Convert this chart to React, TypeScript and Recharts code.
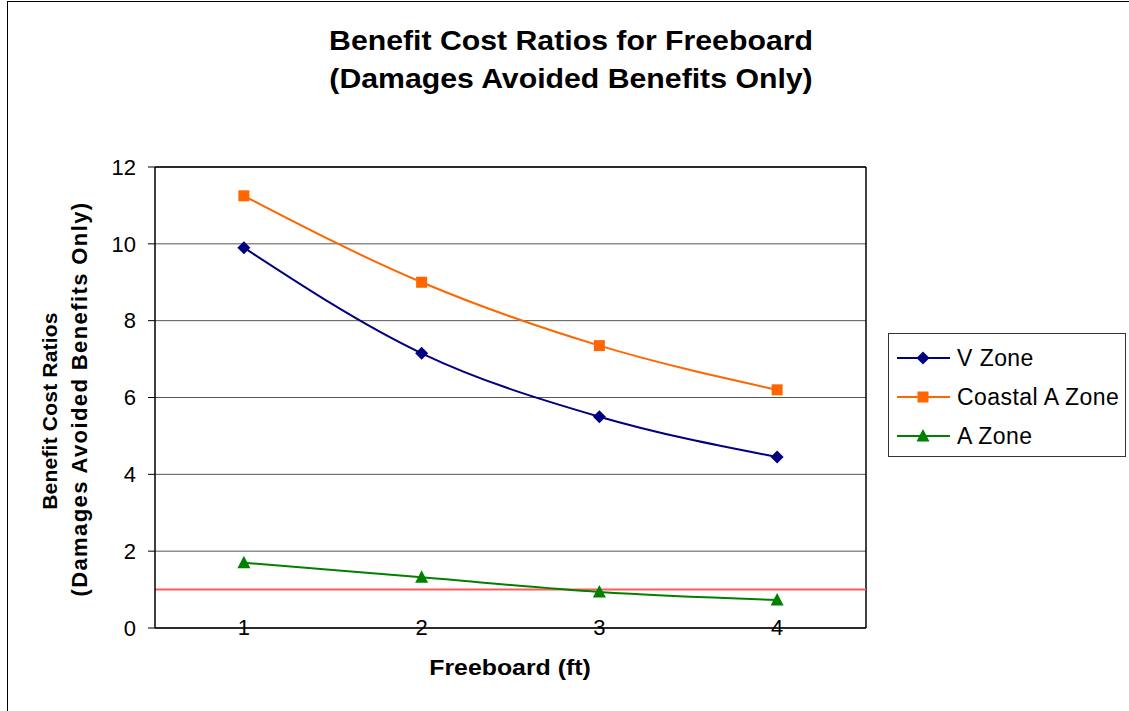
import { LineChart, Line, XAxis, YAxis, CartesianGrid, ReferenceLine } from 'recharts'

const freeboard = [1, 2, 3, 4]
const vZone = [9.9, 7.15, 5.5, 4.45]
const coastalAZone = [11.25, 9.0, 7.35, 6.2]
const aZone = [1.7, 1.32, 0.94, 0.73]
const yTicks = [0, 2, 4, 6, 8, 10, 12]
const breakEven = 1

const series = [
  { key: 'v', name: 'V Zone', color: '#000080', shape: 'diamond' },
  { key: 'coastal', name: 'Coastal A Zone', color: '#FF6600', shape: 'square' },
  { key: 'a', name: 'A Zone', color: '#008000', shape: 'triangle' },
]

const data = freeboard.map((ft, i) => ({
  ft,
  v: vZone[i],
  coastal: coastalAZone[i],
  a: aZone[i],
}))

const font = '"Liberation Sans", Arial, sans-serif'

function Marker({ shape, color, cx, cy }: { shape: string; color: string; cx: number; cy: number }) {
  if (shape === 'diamond') {
    return <polygon points={`${cx},${cy - 6.5} ${cx + 6.5},${cy} ${cx},${cy + 6.5} ${cx - 6.5},${cy}`} fill={color} />
  }
  if (shape === 'square') {
    return <rect x={cx - 5.5} y={cy - 5.5} width={11} height={11} fill={color} />
  }
  return <polygon points={`${cx},${cy - 7} ${cx + 6.5},${cy + 5.5} ${cx - 6.5},${cy + 5.5}`} fill={color} />
}

function makeDot(shape: string, color: string) {
  return (props: any) => {
    if (props.cx == null || props.cy == null) return <g key={props.key} />
    return <Marker key={props.key} shape={shape} color={color} cx={props.cx} cy={props.cy} />
  }
}

function XTick({ x, y, payload }: any) {
  return (
    <text x={x} y={y} dy={7} textAnchor="middle" fontSize={22} fill="#000" fontFamily={font}>
      {payload.value}
    </text>
  )
}

function LegendBox() {
  return (
    <div
      style={{
        position: 'absolute',
        left: 888,
        top: 333,
        width: 236,
        height: 122,
        border: '1px solid #333',
        background: '#fff',
        fontFamily: font,
        fontSize: 23,
        letterSpacing: 0.45,
        color: '#000',
      }}
    >
      {series.map((s, i) => (
        <div key={s.key} style={{ position: 'absolute', left: 0, top: 9 + i * 39, height: 30, display: 'flex', alignItems: 'center' }}>
          <svg width={68} height={30} style={{ display: 'block' }}>
            <line x1={8} x2={61} y1={15} y2={15} stroke={s.color} strokeWidth={2} />
            <Marker shape={s.shape} color={s.color} cx={34} cy={15} />
          </svg>
          <span style={{ whiteSpace: 'nowrap' }}>{s.name}</span>
        </div>
      ))}
    </div>
  )
}

export default function App() {
  return (
    <div
      style={{
        position: 'absolute',
        left: 0,
        top: 0,
        width: 1129,
        height: 711,
        overflow: 'hidden',
        background: '#fff',
        fontFamily: font,
      }}
    >
      <div style={{ position: 'absolute', left: 7, top: 1, width: 1140, height: 720, border: '1px solid #000' }} />

      {/* Titel */}
      <div
        style={{
          position: 'absolute',
          left: 0,
          width: 1142,
          top: 22,
          textAlign: 'center',
          fontWeight: 'bold',
          fontSize: 27,
          lineHeight: '38px',
          transform: 'scaleX(1.12)',
          transformOrigin: '571px 0',
        }}
      >
        Benefit Cost Ratios for Freeboard
        <br />
        (Damages Avoided Benefits Only)
      </div>

      <div style={{ position: 'absolute', left: 0, top: 0 }}>
        <LineChart width={1129} height={711} data={data} margin={{ top: 167, right: 263, bottom: 53, left: 95 }}>
          <CartesianGrid vertical={false} stroke="#555" />
          <XAxis
            dataKey="ft"
            type="number"
            domain={[0.5, 4.5]}
            ticks={freeboard}
            allowDataOverflow
            height={30}
            tickLine={false}
            tickSize={0}
            tickMargin={0}
            axisLine={{ stroke: '#000', strokeWidth: 1.5 }}
            tick={<XTick />}
          />
          <YAxis
            type="number"
            domain={[0, 12]}
            ticks={yTicks}
            width={60}
            tickSize={7}
            tickMargin={12}
            axisLine={{ stroke: '#000', strokeWidth: 1.5 }}
            tickLine={{ stroke: '#000' }}
            tick={{ fill: '#000', fontSize: 22, fontFamily: font }}
          />
          <ReferenceLine y={12} stroke="#000" strokeWidth={1.5} />
          <ReferenceLine x={4.5} stroke="#000" strokeWidth={1.5} />
          <ReferenceLine y={breakEven} stroke="#ff5a5a" strokeWidth={2} />
          {series.map((s) => (
            <Line
              key={s.key}
              type="monotone"
              dataKey={s.key}
              name={s.name}
              stroke={s.color}
              strokeWidth={2}
              dot={makeDot(s.shape, s.color)}
              activeDot={false}
              isAnimationActive={false}
            />
          ))}
        </LineChart>
      </div>

      <LegendBox />

      {/* Achsentitel */}
      <div
        style={{
          position: 'absolute',
          left: 50 - 250,
          top: 411 - 15,
          width: 500,
          height: 30,
          lineHeight: '30px',
          transform: 'rotate(-90deg)',
          textAlign: 'center',
          fontWeight: 'bold',
          fontSize: 21,
          letterSpacing: 0.2,
          whiteSpace: 'nowrap',
        }}
      >
        Benefit Cost Ratios
      </div>
      <div
        style={{
          position: 'absolute',
          left: 80 - 250,
          top: 399 - 15,
          width: 500,
          height: 30,
          lineHeight: '30px',
          transform: 'rotate(-90deg)',
          textAlign: 'center',
          fontWeight: 'bold',
          fontSize: 22,
          letterSpacing: 1.4,
          whiteSpace: 'nowrap',
        }}
      >
        (Damages Avoided Benefits Only)
      </div>
      <div
        style={{
          position: 'absolute',
          left: 310,
          width: 400,
          top: 655,
          textAlign: 'center',
          fontWeight: 'bold',
          fontSize: 22,
          transform: 'scaleX(1.13)',
        }}
      >
        Freeboard (ft)
      </div>
    </div>
  )
}
